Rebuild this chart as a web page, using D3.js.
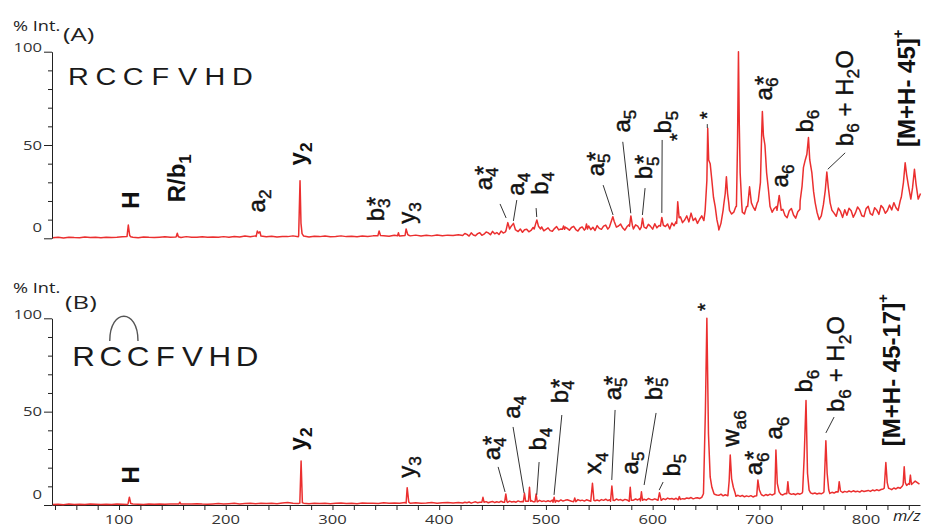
<!DOCTYPE html>
<html><head><meta charset="utf-8">
<script src="https://cdn.jsdelivr.net/npm/d3@7"></script>
<style>html,body{margin:0;padding:0;background:#fff;} svg{display:block} text{white-space:pre}</style>
</head><body>
<svg id="chart" width="925" height="528"></svg>
<script>
// ================= DATA =================
const xTicks = [100, 200, 300, 400, 500, 600, 700, 800];
const xMinorTicks = [40,60,80,100,120,140,160,180,200,220,240,260,280,300,320,340,360,380,400,420,440,460,480,500,520,540,560,580,600,620,640,660,680,700,720,740,760,780,800,820,840];
const yTicks = [0, 50, 100];
const yMinorTicks = [10, 20, 30, 40, 60, 70, 80, 90];
const sequence = ["R", "C", "C", "F", "V", "H", "D"];
const panelTags = ["(A)", "(B)"];
const yTitle = "% Int.";
const xTitle = "m/z";

// spectrum A: baseline sampled (m/z start, step) + peak point groups [m/z, %]
const lowStartA = 38, lowStepA = 5;
const lowA = [
 0.3,0.5,0.2,0.6,0.4,0.3,0.7,0.4,0.5,0.3,
 0.6,0.4,0.5,0.8,0.4,0.6,0.3,0.7,0.5,0.4,
 0.6,0.8,0.5,0.7,0.4,0.9,0.6,0.5,0.8,0.6,
 0.7,0.5,0.9,0.6,1.0,0.7,1.2,0.8,1.3,0.9,
 0.8,1.1,0.7,1.0,0.9,1.3,0.8,1.0,0.7,1.1,
 0.9,1.2,0.8,1.0,1.3,0.9,1.1,0.8,1.2,1.0,
 1.3,1.0,1.4,1.1,1.6,1.2,1.5,1.3,1.7,1.2,
 1.6,1.3,1.8,1.4,1.7,1.5,1.9];
const highStartA = 422, highStepA = 2;
const highA = [
 1.5,2.6,2.1,1.2,2.9,1.8,1.4,2.5,3.0,1.6,
 2.2,3.4,2.9,1.9,3.7,2.4,3.1,2.0,3.9,2.8,
 3.4,4.8,4.1,3.0,5.3,4.4,3.6,5.0,3.2,4.6,
 4.9,3.5,4.2,5.8,4.6,3.7,5.4,6.1,4.0,4.8,
 5.6,4.1,3.8,5.2,6.3,4.5,5.0,3.9,6.0,5.3,
 4.3,5.8,6.4,4.7,3.9,5.5,6.1,4.4,5.2,6.6,
 4.6,5.9,4.2,6.8,5.3,4.8,6.5,7.1,4.9,5.6,
 6.9,5.2,4.6,6.6,7.6,5.5,4.4,6.3,7.3,5.8,
 5.0,7.2,6.5,4.6,7.9,6.0,5.3,7.5,6.4,4.9,
 7.8,5.6,6.9,8.4,5.2,6.3,7.7,5.0,8.2,6.7,
 9.0,10,11.5,8.4,9.8,12.0,8.8,13.5,9.5,10.8,
 8.0,10.2,12,9.5,15,42,40,24,13,6,
 4.5,8,15,21,20,15,13,14,17,28,
 24,14,13,17,24,21,17,15,19,22,
 35,52,26,18,15,14,16,17,21,17,
 15.5,12.2,11,14.8,16,12.5,10.8,14.2,15.6,17,
 23,37,46,35,21,15,12.5,10,12,15,
 21,30,20,15,13.5,11.8,16.2,14.4,11.2,15.3,
 12.4,16.1,14.8,11.3,13.6,16.8,15.2,12.1,11.6,15.9,
 17.1,13.2,12.4,16.4,15.1,12.8,17.6,16.2,13.4,14.9,
 17.8,15.2,19.1,16.4,14.9,20.2,21,32,33,26,
 23,29,31,22,24];
const peaksA = [
 [[107.5,1],[108.7,7.1],[110,1.5],[111,0.8]],
 [[153.6,0.8],[154.6,2.7],[155.6,0.8]],
 [[228.5,1],[229.6,3.9],[230.8,2.8],[232,3.5],[233,1.2]],
 [[268.3,1.2],[269.6,30.9],[270.5,8],[271.5,2.5],[273,1.2]],
 [[342.5,1.3],[343.7,3.9],[345,1.5]],
 [[361,1.4],[361.8,3],[362.6,1.4]],
 [[368,1.5],[369,5],[370.5,2],[372,1.5]],
 [[462.5,4],[464.3,8.4],[466,5],[467.5,6.5],[469.6,8.0],[471.5,4.5]],
 [[489,5],[490.5,8],[491.5,9.8],[493,6.5],[495,5]],
 [[515.5,4.8],[516.5,6.6],[517.5,4.8]],
 [[537,5],[538,7.7],[539,5]],
 [[559.5,6],[561.5,9.5],[562.7,11.6],[564,9],[566,6]],
 [[578.3,6.5],[579.6,12],[581,7]],
 [[589.3,6],[590.5,10.7],[591.7,6.5]],
 [[607.3,6.5],[608.6,11.2],[610,7]],
 [[622.5,8],[623.5,19.6],[624.8,11]],
 [[649.2,15],[650.8,31],[651.6,59],[652.5,42],[653.9,40],[655.5,31],[657,22],[658.6,17],[660.2,10],[661.7,6]],
 [[666.6,18],[668,24],[669.1,33],[670.2,24],[671.3,19]],
 [[678.5,17],[679.5,50],[680.4,100],[681.2,60],[682,35],[683.5,18]],
 [[689,17],[690.8,27.6],[692.5,19]],
 [[698.9,20],[701,30],[702.1,55],[702.8,68],[703.8,55],[705.2,50],[706.8,35],[708.5,26],[710,17]],
 [[716.5,15],[718.6,23],[720.5,15]],
 [[738.2,20],[740,28],[741.3,38],[743,42],[744.5,45],[746,54],[747.2,42],[749.2,35],[750.8,25],[752.3,19],[754,14]],
 [[760,18],[761.8,26],[763.2,35.5],[764.6,27],[766.3,19]],
 [[833,22],[835,30],[836.6,40.5],[838,34],[839.7,28],[841.9,21],[843.5,27],[845.3,37],[846.8,29],[848.8,21],[851,24]]
];

// spectrum B
const lowStartB = 38, lowStepB = 5;
const lowB = [
 0.3,0.4,0.2,0.5,0.3,0.4,0.3,0.5,0.4,0.3,
 0.4,0.3,0.5,0.4,0.3,0.5,0.4,0.3,0.5,0.4,
 0.5,0.4,0.6,0.5,0.4,0.6,0.5,0.7,0.5,0.4,
 0.6,0.8,0.5,0.7,0.9,0.6,0.8,1.0,0.7,0.9,
 0.8,1.0,0.7,1.1,1.3,0.9,0.8,1.0,0.7,0.9,
 0.8,1.0,0.7,0.9,1.1,0.8,1.0,0.7,1.1,0.9,
 1.0,0.8,1.2,0.9,1.1,1.0,1.3,0.9,1.2,1.0,
 1.1,1.3,1.0,1.2,1.4,1.1,1.3];
const highStartB = 422, highStepB = 2;
const highB = [
 1.1,1.5,1.2,1.6,1.0,1.4,1.7,1.2,1.5,1.3,
 1.4,1.8,1.2,1.6,1.9,1.3,1.7,1.4,2.0,1.5,
 1.8,1.4,2.1,1.6,1.9,1.5,2.2,1.7,1.9,2.3,
 2.0,1.6,2.4,1.8,2.1,1.7,2.5,1.9,2.2,1.8,
 2.3,1.8,2.6,2.0,2.4,1.9,2.7,2.1,2.5,2.8,
 2.4,2.0,2.7,2.2,2.9,2.3,2.6,2.1,2.8,2.4,
 2.6,3.0,2.3,2.7,2.2,2.9,2.5,3.1,2.4,2.8,
 2.9,2.4,3.2,2.6,2.9,2.3,3.0,2.7,3.3,2.8,
 2.6,3.2,2.7,3.4,2.9,3.1,2.6,3.5,3.0,2.8,
 3.3,2.8,3.6,3.1,3.4,2.9,3.7,3.2,3.5,3.0,
 3.6,3.1,3.9,3.4,3.2,3.8,3.5,4.0,3.3,3.7,
 3.9,3.5,4.1,3.8,5,6,7,6.5,5.8,5.4,
 5.2,5.8,4.9,5.5,5.0,5.6,4.8,5.3,4.7,5.2,
 4.6,5.1,4.4,4.9,4.5,5.0,4.3,4.8,4.6,5.2,
 5.5,4.9,5.6,5.1,5.8,5.3,6.0,5.5,6.2,5.8,
 5.4,6.1,5.6,6.3,5.7,6.0,5.5,6.2,5.8,6.4,
 6.6,6.9,7.2,6.5,6.0,6.4,5.9,6.3,6.0,6.6,
 7.0,6.5,6.2,6.8,6.4,7.1,6.6,7.2,6.7,7.3,
 6.9,7.5,7.0,7.6,7.1,7.4,6.9,7.7,7.2,7.5,
 7.8,7.3,8.0,7.6,8.2,7.7,8.3,8.6,9.0,8.4,
 8.8,8.2,9.1,8.6,9.4,9.0,10.2,11.0,10.5,11.5,
 12.5,11.8,12.8,12.0,11.2];
const peaksB = [
 [[108.5,0.8],[109.7,4.2],[111,0.8]],
 [[156,0.5],[157,1.5],[158,0.5]],
 [[269.4,1],[270.6,23.6],[271.8,1.2]],
 [[369,1],[370,9.3],[371.5,1.5]],
 [[440,1.5],[441,4.1],[442,1.5]],
 [[461.3,1.5],[462.4,5.9],[463.5,1.8]],
 [[478.9,1.8],[479.9,6.3],[481,2]],
 [[483.6,2],[484.6,9.5],[485.6,2]],
 [[489.8,1.8],[490.8,5.9],[491.8,1.8]],
 [[506.7,1.5],[507.7,4.1],[508.7,1.5]],
 [[526,1.8],[527,3.8],[528,1.8]],
 [[542,2],[543.6,11.6],[545,2.5]],
 [[560.5,2],[561.8,10.2],[563,2.5]],
 [[578,2],[579,9.5],[580,2.5]],
 [[588.5,2.2],[589.5,7.1],[590.5,2.5]],
 [[605,2.5],[606.4,6.6],[608,2.5]],
 [[624,2.8],[625,4.5],[626,3]],
 [[647.6,6],[649.4,50],[650.8,100],[652.3,38],[653.9,15],[655.5,9.5],[657.5,6]],
 [[670.5,5],[671.7,13],[672.7,26.8],[674,14],[675.6,9.5],[677.5,6]],
 [[697.5,5],[698.6,13.4],[700,8],[701.5,6]],
 [[714.5,6],[715.5,29.5],[716.8,11.6],[718.5,7]],
 [[725.7,6],[726.7,12.5],[727.7,6.5]],
 [[740.5,7],[742,26],[743.7,56],[745.1,17],[746.6,8]],
 [[760.5,7],[762.3,34.4],[763.5,17],[765,8]],
 [[773.8,7],[774.8,12.5],[776,7.5]],
 [[817,9],[818.5,22.7],[819.8,12],[821,9]],
 [[834.7,11],[835.7,20.5],[836.7,12]],
 [[840.5,11],[841.5,16],[842.5,11]]
];

// annotation texts ( _ = subscript, ^ = superscript )
const labelTextA = ["H","R/b_1","a_2","y_2","b_3*","y_3","a_4*","a_4","b_4","a_5*","a_5","b_5*","b_5","*","*","a_6*","a_6","b_6","b_6 + H_2O","[M+H- 45]^+"];
const labelTextB = ["H","y_2","y_3","a_4*","a_4","b_4","b_4*","x_4","a_5*","a_5","b_5*","b_5","*","w_{a6}","a_6*","a_6","b_6","b_6 + H_2O","[M+H- 45-17]^+"];

// ================= LAYOUT =================
// label centres in data units [m/z, %], weight flag
const labelPosA = [[111.2,20.5,1],[156.2,32.3,1],[231.2,20.0,0],[269.6,45.2,1],[342.7,15.7,0],[371.8,13.6,0],
 [443.9,32.3,0],[473.9,29.1,0],[496.4,29.6,0],[548.9,39.8,0],[573.2,62.8,0],[593.9,38.2,0],[611.7,62.3,0],
 [622.9,54.3,0],[651.0,66.0,0],[706.3,80.5,0],[721.3,33.4,0],[744.7,62.8,0],[782.2,75.1,0],[836.6,80.5,1]];
const labelPosB = [[111.2,16.1,1],[269.6,35.4,1],[371.8,20.4,0],[451.4,30.5,0],[470.2,52.5,0],[494.5,35.4,0],
 [515.1,61.1,0],[546.1,22.5,0],[564.8,62.7,0],[580.7,22.5,0],[603.2,62.7,0],[620.1,21.4,0],[649.2,106,0],
 [675.5,40.7,0],[697.0,22.5,0],[715.8,41.2,0],[743.9,66.4,0],[773.9,75.5,0],[822.5,72.3,1]];
const leadersA = [
 [[457.0,18.4],[462.7,10.9]], [[472.7,20.5],[469.5,9.3]], [[490.8,16.2],[491.4,11.4]],
 [[553.6,28.5],[562.9,12.5]], [[572.0,51.7],[579.5,13.4]], [[592.9,26.9],[590.4,12.5]],
 [[608.9,52.7],[608.6,13.6]], [[651.2,61.2],[651.2,59.1]], [[780.4,45.8],[764.1,37.0]]];
const leadersB = [
 [[455.2,20.4],[461.7,7.0]], [[469.2,41.8],[479.5,6.4]], [[493.6,23.0],[491.4,5.4]],
 [[514.9,48.2],[507.6,5.4]], [[564.8,50.9],[561.7,13.4]], [[603.2,49.3],[592.0,10.7]],
 [[609.8,12.3],[606.1,8.0]], [[770.0,47.1],[762.3,38.6]]];

const RED = "#eb2f2f";
const INK = "#222";
const svg = d3.select("#chart");
const x = d3.scaleLinear().domain([37.2, 850.5]).range([52, 920]);

const panels = [
 {yTop:51.7, yBase:238.3, lowStart:lowStartA, lowStep:lowStepA, low:lowA, highStart:highStartA, highStep:highStepA, high:highA,
  peaks:peaksA, labels:labelTextA, pos:labelPosA, leaders:leadersA, tag:panelTags[0], tagX:63, tagY:41, titleY:31,
  seqX0:78.5, seqStep:27.3, seqY:85, seqSize:24, seqStretch:1.2, arc:false, xAxis:false},
 {yTop:318.3, yBase:505, lowStart:lowStartB, lowStep:lowStepB, low:lowB, highStart:highStartB, highStep:highStepB, high:highB,
  peaks:peaksB, labels:labelTextB, pos:labelPosB, leaders:leadersB, tag:panelTags[1], tagX:65, tagY:309, titleY:293,
  seqX0:83.5, seqStep:27.25, seqY:366, seqSize:28, seqStretch:1.12, arc:true, xAxis:true}
];

function buildSeries(p){
  let base = p.low.map((v,i)=>[p.lowStart+i*p.lowStep, v])
    .concat(p.high.map((v,i)=>[p.highStart+i*p.highStep, v]));
  const ranges = p.peaks.filter(g=>g.length>1).map(g=>[g[0][0], g[g.length-1][0]]);
  base = base.filter(([m]) => !ranges.some(([a,b]) => m>=a && m<=b));
  return base.concat(p.peaks.flat()).sort((a,b)=>a[0]-b[0]);
}

function richText(sel, str, fs){
  const tokens = [];
  let i = 0;
  while(i < str.length){
    const c = str[i];
    if(c === '_' || c === '^'){
      let content;
      if(str[i+1] === '{'){ const j = str.indexOf('}', i); content = str.slice(i+2, j); i = j+1; }
      else { content = str[i+1]; i += 2; }
      tokens.push({type: c==='_' ? 'sub' : 'sup', s: content});
    } else {
      let j = i; while(j < str.length && str[j] !== '_' && str[j] !== '^') j++;
      tokens.push({type:'n', s: str.slice(i, j)}); i = j;
    }
  }
  let cur = 0;
  tokens.forEach((t,k)=>{
    const ts = sel.append('tspan').text(t.s);
    let target = 0, size = fs;
    if(t.type === 'sub'){ target = 0.28*fs; size = 0.72*fs; }
    if(t.type === 'sup'){ target = -0.5*fs; size = 0.62*fs; }
    ts.attr('font-size', size);
    if(target - cur !== 0) ts.attr('dy', target - cur);
    if(t.type === 'n' && k > 0 && tokens[k-1].type === 'sub' && t.s[0] === '*') ts.attr('dx', -0.32*fs);
    cur = target;
  });
}

panels.forEach(p => {
  const y = d3.scaleLinear().domain([0,100]).range([p.yBase, p.yTop]);

  // y axis major + minor
  const gy = svg.append('g').attr('transform','translate(52,0)')
    .call(d3.axisLeft(y).tickValues(yTicks).tickSize(8).tickSizeOuter(0).tickFormat(''));
  gy.select('.domain').attr('stroke', INK);
  gy.selectAll('.tick line').attr('stroke', INK);
  const gym = svg.append('g').attr('transform','translate(52,0)')
    .call(d3.axisLeft(y).tickValues(yMinorTicks).tickSize(4).tickSizeOuter(0).tickFormat(''));
  gym.select('.domain').remove();
  gym.selectAll('.tick line').attr('stroke', INK);
  const ylabOff = {0:-11, 50:0, 100:-4};
  yTicks.forEach(t => {
    svg.append('text').attr('transform', `translate(42,${y(t)+ylabOff[t]+4.7}) scale(1.28,1)`)
      .attr('text-anchor','end').attr('font-family','Open Sans').attr('font-size',13).attr('fill','#333').text(t);
  });

  // titles
  svg.append('text').attr('transform', `translate(13,${p.titleY}) scale(1.3,1)`)
    .attr('font-family','Open Sans').attr('font-size',14).attr('fill',INK).text(yTitle);
  svg.append('text').attr('transform', `translate(${p.tagX},${p.tagY}) scale(1.35,1)`)
    .attr('font-family','Open Sans').attr('font-size',19).attr('fill',INK).text(p.tag);

  // sequence
  const seqPos = sequence.map((s,i)=>p.seqX0 + i*p.seqStep);
  sequence.forEach((s,i)=>{
    svg.append('text').attr('transform', `translate(${seqPos[i]},${p.seqY}) scale(${p.seqStretch},1)`)
      .attr('text-anchor','middle').attr('font-family','Liberation Sans, Arial').attr('font-size',p.seqSize)
      .attr('fill','#1a1a1a').text(s);
  });
  if(p.arc){
    const x1 = seqPos[1]-1, x2 = seqPos[2], yb = p.seqY - 25, yc = p.seqY - 58;
    svg.append('path').attr('d', `M${x1},${yb} C${x1},${yc} ${x2},${yc} ${x2},${yb}`)
      .attr('fill','none').attr('stroke','#555').attr('stroke-width',1.4);
  }

  // x axis
  if(p.xAxis){
    const gx = svg.append('g').attr('transform',`translate(0,${p.yBase})`)
      .call(d3.axisBottom(x).tickValues(xMinorTicks).tickSize(5).tickSizeOuter(0).tickFormat(''));
    gx.select('.domain').attr('stroke', INK);
    gx.selectAll('.tick line').attr('stroke', INK);
    xTicks.forEach(t=>{
      svg.append('text').attr('transform', `translate(${x(t)},524.3) scale(1.33,1)`)
        .attr('text-anchor','middle').attr('font-family','Open Sans').attr('font-size',12.5).attr('fill','#333').text(t);
    });
    svg.append('text').attr('transform','translate(893,521) scale(1.1,1)')
      .attr('font-family','Open Sans').attr('font-style','italic').attr('font-size',15).attr('fill',INK).text(xTitle);
  }

  // spectrum
  const series = buildSeries(p);
  svg.append('path').datum(series)
    .attr('d', d3.line().x(d=>x(d[0])).y(d=>y(d[1])))
    .attr('fill','none').attr('stroke',RED).attr('stroke-width',1.5).attr('stroke-linejoin','round');

  // leaders
  p.leaders.forEach(l=>{
    svg.append('line').attr('x1',x(l[0][0])).attr('y1',y(l[0][1])).attr('x2',x(l[1][0])).attr('y2',y(l[1][1]))
      .attr('stroke','#333').attr('stroke-width',1);
  });

  // labels (rotated)
  p.labels.forEach((str,i)=>{
    const [m, v, bold] = p.pos[i];
    const fs = str === '*' ? 20 : 24;
    const t = svg.append('text').attr('font-family','Liberation Sans, Arial').attr('font-size',fs)
      .attr('font-weight', bold ? 'bold' : 'normal').attr('fill','#111');
    if(!bold) t.attr('stroke','#111').attr('stroke-width',0.45);
    richText(t, str, fs);
    const bb = t.node().getBBox();
    const cx = bb.x + bb.width/2, cy = bb.y + bb.height/2;
    t.attr('transform', `translate(${x(m) - cy},${y(v) + cx}) rotate(-90)`);
  });
});
</script>
</body></html>
